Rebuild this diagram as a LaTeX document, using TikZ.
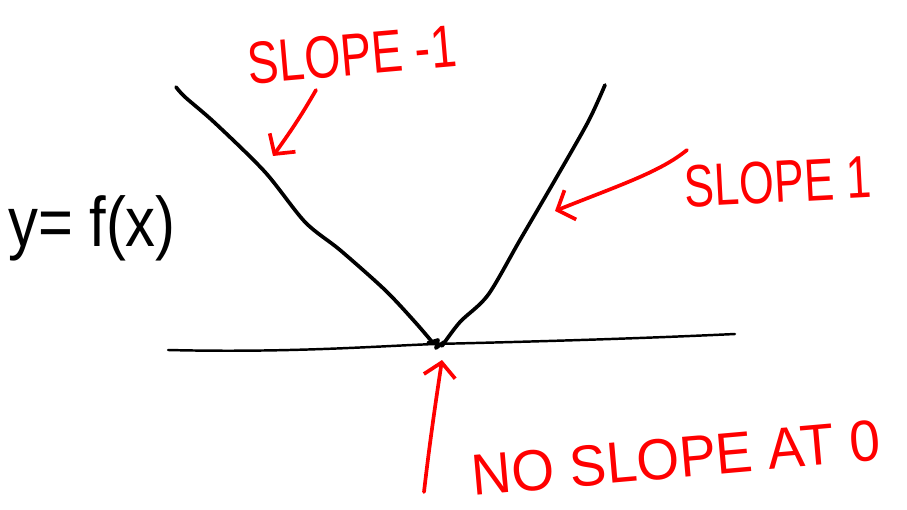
\documentclass[tikz,border=0pt]{standalone}
\usepackage{fontspec}
\setmainfont{Liberation Sans}
\usetikzlibrary{arrows.meta}
\definecolor{pen}{RGB}{255,0,0}
\tikzset{
  ink/.style={line width=2.1pt, line cap=round, line join=round},
  redink/.style={ink, draw=pen},
  hand/.style={text=pen, inner sep=0pt},
  barb/.style={-{Straight Barb[length=8pt,width=18pt,line width=2.1pt]}},
}
\begin{document}
\begin{tikzpicture}[x=0.02cm,y=-0.02cm]
\useasboundingbox (0,0) rectangle (907,510);
% axis
\coordinate (axL) at (168,350);
\coordinate (axR) at (735,334);
\draw[line width=1.4pt, line cap=round] (axL) .. controls (290,353) and (380,346) .. (435,344)
  .. controls (560,341) and (650,338) .. (axR);
% V graph
\coordinate (vtx) at (437,344);
\draw[ink] plot[smooth, tension=0.5] coordinates {(176,87) (185,97) (215,123) (265,172) (305,222) (340,250) (385,290) (415,322) (433,343)};
\draw[ink] plot[smooth, tension=0.5] coordinates {(442,346) (460,322) (488,295) (520,240) (555,180) (588,122) (605,85)};
\draw[ink] (428,343) -- (438,340) -- (436,348) -- (444,342);
% labels
\node[hand, font=\fontsize{34}{34}\selectfont, rotate=5, xscale=0.78] (sm) at (352,55) {SLOPE -1};
\node[hand, font=\fontsize{34}{34}\selectfont, rotate=3, xscale=0.75] (sp) at (778,182) {SLOPE 1};
\node[hand, font=\fontsize{33}{33}\selectfont, rotate=5, xscale=0.95] (ns) at (676,458) {NO SLOPE AT 0};
\node[font=\fontsize{40}{40}\selectfont, inner sep=0pt, xscale=0.85] (fx) at (92,228) {y= f(x)};
% arrows
\coordinate (a1s) at (316,90);
\coordinate (a1e) at (273,156);
\draw[redink, barb] (a1s) .. controls (300,118) and (288,135) .. (a1e);
\coordinate (a2s) at (687,150);
\coordinate (a2e) at (555,211);
\draw[redink, barb] (a2s) .. controls (660,172) and (620,185) .. (a2e);
\coordinate (a3s) at (424,492);
\coordinate (a3e) at (442,360);
\draw[redink, barb] (a3s) .. controls (430,440) and (436,400) .. (a3e);
\end{tikzpicture}
\end{document}
